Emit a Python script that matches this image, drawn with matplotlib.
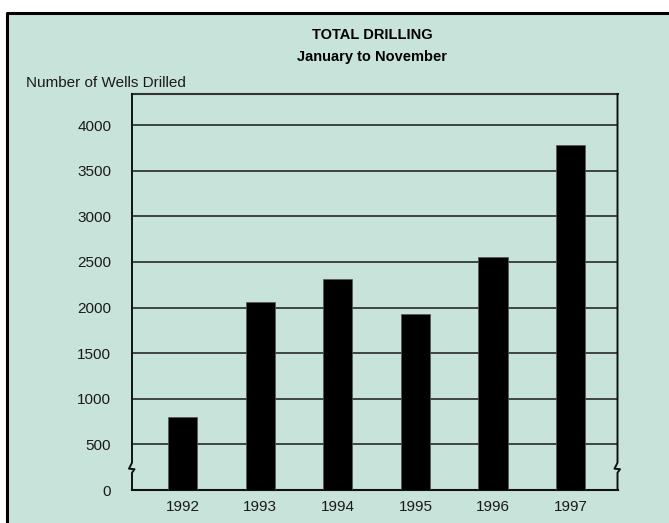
import matplotlib
matplotlib.use('Agg')
import matplotlib.pyplot as plt
from matplotlib.patches import Rectangle
from matplotlib.lines import Line2D

# ---- data ----
years = ['1992', '1993', '1994', '1995', '1996', '1997']
wells = [805, 2065, 2315, 1925, 2550, 3780]
yticks = [0, 500, 1000, 1500, 2000, 2500, 3000, 3500, 4000]
title1 = 'TOTAL DRILLING'
title2 = 'January to November'
ylabel = 'Number of Wells Drilled'

plt.rcParams['font.family'] = ['Liberation Sans', 'DejaVu Sans']

W, H = 669, 523
bg = '#c8e3da'
fig = plt.figure(figsize=(W / 100, H / 100), dpi=100)
fig.patch.set_facecolor('white')

# green panel with black left/top border
fig.add_artist(Rectangle((7 / W, 0), 1, 1 - 13 / H, transform=fig.transFigure,
                         facecolor=bg, edgecolor='none', zorder=0))
fig.add_artist(Line2D([7 / W, 7 / W, 1], [0, 1 - 13 / H, 1 - 13 / H],
                      transform=fig.transFigure, color='black', lw=2.2, zorder=1))

left, right, bottom, top = 132 / W, 617.5 / W, 1 - 490 / H, 1 - 94 / H
ax = fig.add_axes([left, bottom, right - left, top - bottom])
ax.set_facecolor(bg)

x = list(range(len(years)))
ax.bar(x, wells, width=0.375, color='black', edgecolor='#555555', linewidth=0.5, zorder=3)

ymax = 4340
ax.set_ylim(0, ymax)
ax.set_xlim(-0.655, 5.605)
ax.set_yticks(yticks)
ax.set_yticklabels([str(v) for v in yticks], fontsize=11, color='#1a1a1a')
ax.set_xticks(x)
ax.set_xticklabels(years, fontsize=11, color='#1a1a1a')
ax.tick_params(axis='y', length=0, pad=15)
ax.tick_params(axis='x', length=0, pad=7)

for v in yticks[1:]:
    ax.axhline(v, color='#1a1a1a', lw=1.1, zorder=2)

for s in ['left', 'right']:
    ax.spines[s].set_visible(False)
ax.spines['top'].set_color('#333333')
ax.spines['top'].set_linewidth(1.5)
ax.spines['bottom'].set_color('#111111')
ax.spines['bottom'].set_linewidth(1.5)

# spines with axis-break notch
axw = (right - left) * W
axh = (top - bottom) * H
dx = 1.0 / axw          # 1 px in axes fraction
dy = ymax / axh          # 1 px in data units
yb = (490 - 462.7) * dy  # start of break (data)
trans = ax.get_yaxis_transform()
for x0 in (0.0, 1.0):
    xs = [x0, x0, x0 - 3 * dx, x0 + 2.5 * dx, x0, x0]
    ys = [ymax, yb, yb - 6 * dy, yb - 6.5 * dy, yb - 10 * dy, 0]
    ax.add_line(Line2D(xs, ys, transform=trans, color='#111111', lw=1.4,
                       clip_on=False, zorder=4))

fig.text(372 / W, 1 - 35 / H, title1, ha='center', va='center',
         fontsize=10.5, fontweight='bold', color='black')
fig.text(372 / W, 1 - 57 / H, title2, ha='center', va='center',
         fontsize=10.5, fontweight='bold', color='black')
fig.text(26 / W, 1 - 83 / H, ylabel, ha='left', va='center',
         fontsize=11, color='#1a1a1a')

fig.savefig('out.png', dpi=100, facecolor=fig.get_facecolor())
